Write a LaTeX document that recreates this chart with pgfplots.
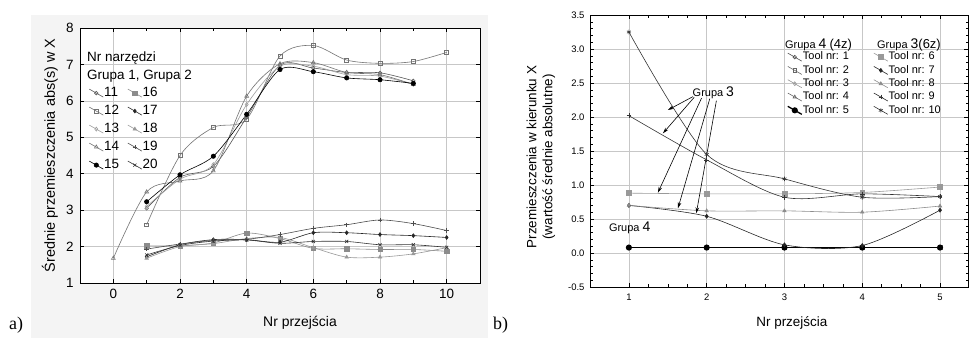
\documentclass[border=0pt]{standalone}
\usepackage{pgfplots}
\pgfplotsset{compat=1.18}
\usepackage{fontspec}
\setmainfont{Liberation Sans}
\newfontfamily\serifb{Liberation Serif}
\usetikzlibrary{arrows.meta}
\definecolor{bggray}{gray}{0.955}
\pgfplotsset{
  panel/.style={
    scale only axis,
    axis line style={black, line width=0.8pt},
    grid=major,
    major grid style={black!22, line width=0.6pt},
    tick align=inside,
    tick style={black, line width=0.5pt},
    major tick length=4bp, minor tick length=2.5bp,
    /pgf/number format/assume math mode=true,
    legend cell align=left,
    every axis plot/.append style={line width=0.6pt, smooth, mark options={solid}},
    legend image code/.code={\draw[mark repeat=2,mark phase=2,##1] plot coordinates {(0bp,4bp) (7bp,0bp) (14bp,-4bp)};},
  },
}
\begin{document}
\begin{tikzpicture}
\path[use as bounding box] (0bp,0bp) rectangle (969bp,338bp);
\fill[bggray] (31bp,0bp) rectangle (488bp,323bp);
% ---------------- panel a ----------------
\begin{axis}[panel,
  at={(80bp,55bp)}, anchor=south west, width=400bp, height=255bp,
  axis background/.style={fill=white},
  xmin=-1, xmax=11, ymin=1, ymax=8,
  xtick={0,2,4,6,8,10}, minor x tick num=1,
  ytick={1,2,3,4,5,6,7,8},
  tick label style={font=\fontsize{13.5}{14}\selectfont},
  xticklabel style={yshift=-3bp},
  yticklabel style={xshift=-3bp},
  xlabel={Nr przejścia}, ylabel={Średnie przemieszczenia abs(s) w X},
  every axis x label/.style={at={(axis description cs:0.55,-0.157)}, anchor=center, font=\fontsize{14}{15}\selectfont},
  every axis y label/.style={at={(axis description cs:-0.075,0.5)}, rotate=90, anchor=center, font=\fontsize{14.5}{15}\selectfont},
  legend columns=5, transpose legend,
  legend style={at={(axis description cs:0.022,0.772)}, anchor=north west, draw=none, fill=none, inner sep=0pt,
    font=\fontsize{13.5}{14}\selectfont, row sep=4.5bp,
    nodes={inner sep=0.5bp, text height=9.5bp, text depth=3bp},
    /tikz/every even column/.append style={column sep=8bp}},
]
\addplot[color=black!65, mark=o, mark size=1.8] coordinates {(1,3.05) (2,3.9) (3,4.2) (4,5.55) (5,6.98) (6,6.9) (7,6.78) (8,6.77) (9,6.55)};
\addplot[color=black!55, mark=square, mark size=1.9] coordinates {(1,2.6) (2,4.5) (3,5.27) (4,5.5) (5,7.23) (6,7.52) (7,7.12) (8,7.03) (9,7.08) (10,7.33)};
\addplot[color=black!38, mark=diamond, mark size=2] coordinates {(1,3.1) (2,3.85) (3,4.25) (4,5.9) (5,6.95) (6,6.95) (7,6.72) (8,6.68) (9,6.45)};
\addplot[color=black!55, mark=triangle, mark size=2.2] coordinates {(0,1.68) (1,3.5) (2,3.8) (3,4.08) (4,6.13) (5,7.02) (6,7.05) (7,6.78) (8,6.72) (9,6.45)};
\addplot[color=black, mark=*, mark size=2.2] coordinates {(1,3.23) (2,3.97) (3,4.48) (4,5.63) (5,6.86) (6,6.8) (7,6.63) (8,6.58) (9,6.48)};
\addplot[color=black!45, mark=square*, mark size=2.2] coordinates {(1,2.02) (2,2.02) (3,2.1) (4,2.37) (5,2.22) (6,1.95) (7,1.94) (8,1.92) (9,1.92) (10,1.87)};
\addplot[color=black!85, mark=diamond*, mark size=1.9] coordinates {(1,1.72) (2,2.05) (3,2.19) (4,2.19) (5,2.12) (6,2.38) (7,2.38) (8,2.33) (9,2.3) (10,2.25)};
\addplot[color=black!40, mark=triangle*, mark size=2] coordinates {(1,1.68) (2,2.0) (3,2.08) (4,2.22) (5,2.25) (6,1.97) (7,1.71) (8,1.71) (9,1.8) (10,1.97)};
\addplot[color=black!70, mark=+, mark size=2.2] coordinates {(1,1.93) (2,2.07) (3,2.17) (4,2.2) (5,2.33) (6,2.5) (7,2.6) (8,2.73) (9,2.63) (10,2.44)};
\addplot[color=black!80, mark=x, mark size=2.2] coordinates {(1,1.77) (2,2.03) (3,2.15) (4,2.18) (5,2.09) (6,2.14) (7,2.14) (8,2.05) (9,2.05) (10,1.98)};
\legend{11,12,13,14,15,16,17,18,19,20}
\end{axis}
\node[anchor=base west, font=\fontsize{13.5}{14}\selectfont, inner sep=0pt] at (87bp,276.5bp) {Nr narzędzi};
\node[anchor=base west, font=\fontsize{13.5}{14}\selectfont, inner sep=0pt] at (87bp,258.5bp) {Grupa 1, Grupa 2};
% ---------------- panel b ----------------
\begin{axis}[panel,
  at={(590bp,51bp)}, anchor=south west, width=378bp, height=272bp,
  xmin=0.5, xmax=5.36, ymin=-0.5, ymax=3.5,
  xtick={1,2,3,4,5}, minor x tick num=3,
  ytick={-0.5,0,0.5,1,1.5,2,2.5,3,3.5}, minor y tick num=4,
  tick label style={font=\fontsize{9.5}{10}\selectfont},
  xticklabel style={yshift=-3bp},
  yticklabel style={xshift=-2bp, /pgf/number format/.cd, fixed, fixed zerofill, precision=1},
  xlabel={Nr przejścia},
  ylabel={Przemieszczenia w kierunku X\\(wartość średnie absolutne)},
  every axis x label/.style={at={(axis description cs:0.534,-0.132)}, anchor=center, font=\fontsize{13.5}{14}\selectfont},
  every axis y label/.style={at={(axis description cs:-0.13,0.478)}, rotate=90, anchor=center, align=center, font=\fontsize{13.5}{16}\selectfont},
  legend columns=5, transpose legend,
  legend style={at={(axis description cs:0.521,0.867)}, anchor=north west, draw=none, fill=none, inner sep=0pt,
    font=\fontsize{11}{12}\selectfont, row sep=1.8bp,
    nodes={inner sep=0.5bp, text height=8bp, text depth=2.5bp},
    /tikz/every even column/.append style={column sep=24bp}},
]
\addplot[color=black!70, mark=o, mark size=1.8] coordinates {(1,0.08) (2,0.08) (3,0.08) (4,0.08) (5,0.08)};
\addplot[color=black!60, mark=square, mark size=1.8] coordinates {(1,0.08) (2,0.08) (3,0.08) (4,0.08) (5,0.08)};
\addplot[color=black!40, mark=diamond, mark size=2] coordinates {(1,0.08) (2,0.08) (3,0.08) (4,0.08) (5,0.08)};
\addplot[color=black!60, mark=triangle, mark size=2] coordinates {(1,0.08) (2,0.08) (3,0.08) (4,0.08) (5,0.08)};
\addplot[color=black, line width=1.3pt, mark=*, mark size=2.4] coordinates {(1,0.08) (2,0.08) (3,0.08) (4,0.08) (5,0.08)};
\addplot[color=black!40, mark=square*, mark size=2.4] coordinates {(1,0.88) (2,0.87) (3,0.87) (4,0.89) (5,0.97)};
\addplot[color=black!85, mark=diamond*, mark size=2] coordinates {(1,0.70) (2,0.54) (3,0.12) (4,0.11) (5,0.63)};
\addplot[color=black!45, mark=triangle*, mark size=2] coordinates {(1,0.70) (2,0.62) (3,0.62) (4,0.60) (5,0.69)};
\addplot[color=black!80, mark=+, mark size=2.3] coordinates {(1,2.02) (2,1.37) (3,0.82) (4,0.87) (5,0.83)};
\addplot[color=black!80, mark=asterisk, mark size=2.3] coordinates {(1,3.25) (2,1.45) (3,1.09) (4,0.82) (5,0.83)};
\legend{Tool nr: 1,Tool nr: 2,Tool nr: 3,Tool nr: 4,Tool nr: 5,Tool nr: 6,Tool nr: 7,Tool nr: 8,Tool nr: 9,Tool nr: 10}
\node[font=\fontsize{11}{12}\selectfont, anchor=center] at (axis cs:2.086,2.36) {Grupa {\fontsize{14}{14}\selectfont 3}};
\node[font=\fontsize{11}{12}\selectfont, anchor=center] at (axis cs:1.01,0.37) {Grupa {\fontsize{14}{14}\selectfont 4}};
\begin{scope}[-{Stealth[length=6bp,width=3.5bp]}, black, line width=0.6pt]
\draw (axis cs:1.824,2.30) -- (axis cs:1.502,2.103);
\draw (axis cs:1.840,2.29) -- (axis cs:1.438,1.76);
\draw (axis cs:1.935,2.28) -- (axis cs:1.373,0.887);
\draw (axis cs:2.040,2.27) -- (axis cs:1.631,0.657);
\draw (axis cs:2.125,2.24) -- (axis cs:1.867,0.584);
\end{scope}
\end{axis}
\node[anchor=base west, inner sep=0pt, font=\fontsize{11}{12}\selectfont] at (785bp,289.5bp) {Grupa {\fontsize{14}{14}\selectfont 4} {\fontsize{13}{14}\selectfont (4z)}};
\node[anchor=base west, inner sep=0pt, font=\fontsize{11}{12}\selectfont] at (877bp,289.5bp) {Grupa {\fontsize{14}{14}\selectfont 3}{\fontsize{13}{14}\selectfont (6z)}};
\node[anchor=base west, inner sep=0pt, font=\serifb\fontsize{18}{18}\selectfont] at (9bp,9bp) {a)};
\node[anchor=base west, inner sep=0pt, font=\serifb\fontsize{18}{18}\selectfont] at (493bp,9bp) {b)};
\end{tikzpicture}
\end{document}
